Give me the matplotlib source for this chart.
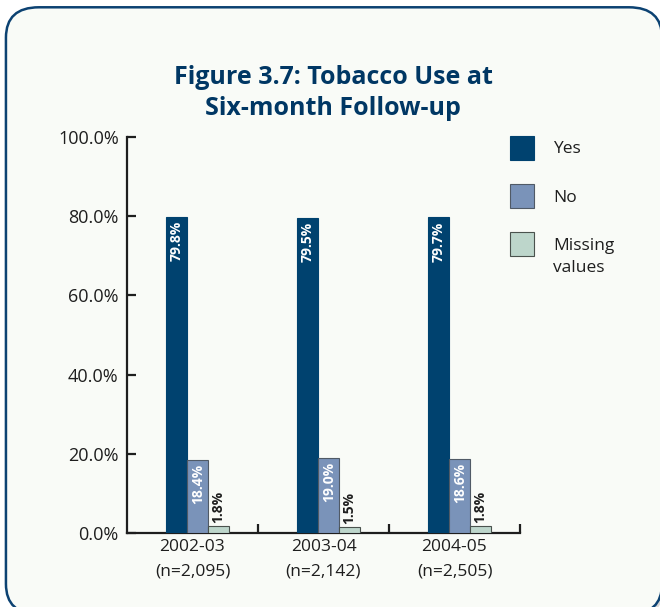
import numpy as np
import matplotlib.pyplot as plt
from matplotlib.patches import FancyBboxPatch

plt.rcParams['font.family'] = ['Open Sans', 'DejaVu Sans']

# Data
periods = ['2002-03\n(n=2,095)', '2003-04\n(n=2,142)', '2004-05\n(n=2,505)']
series = ['Yes', 'No', 'Missing']
yes_vals = [79.8, 79.5, 79.7]
no_vals = [18.4, 19.0, 18.6]
missing_vals = [1.8, 1.5, 1.8]

colors = ['#00426f', '#7a93b9', '#bdd6cb']
edges = ['#00426f', '#505a66', '#4a524d']
bg = '#f9fbf7'
ink = '#1e1e1e'

fig = plt.figure(figsize=(6.6, 6.07), dpi=100)
fig.patch.set_facecolor('white')

# soft shadow + rounded frame
shadow = FancyBboxPatch((0.009 + 0.004, -0.012 - 0.004), 0.994, 1.0,
                        boxstyle='round,pad=0,rounding_size=0.05',
                        transform=fig.transFigure, facecolor='#d8d8d8',
                        edgecolor='none', zorder=-11)
frame = FancyBboxPatch((0.009, -0.012), 0.994, 1.0,
                       boxstyle='round,pad=0,rounding_size=0.05',
                       transform=fig.transFigure, facecolor=bg,
                       edgecolor='#0c4272', linewidth=1.8, zorder=-10)
fig.patches.append(shadow)
fig.patches.append(frame)

fig.text(0.505, 1 - 93 / 607, 'Figure 3.7: Tobacco Use at\nSix-month Follow-up',
         ha='center', va='center', fontsize=18, fontweight='bold',
         color='#003764', linespacing=1.35)

ax = fig.add_axes([127 / 660, 1 - 533 / 607, 393 / 660, 396 / 607])
ax.patch.set_alpha(0)

x = np.arange(len(periods))
width = 0.16
offsets = [-0.12, 0.04, 0.20]
all_vals = [yes_vals, no_vals, missing_vals]

for k, vals in enumerate(all_vals):
    bars = ax.bar(x + offsets[k], vals, width, color=colors[k],
                  edgecolor=edges[k], linewidth=0.8, label=series[k],
                  zorder=3)
    for b, v in zip(bars, vals):
        cx = b.get_x() + b.get_width() / 2
        if k < 2:
            ax.text(cx, v - 1.0, f'{v:.1f}%', rotation=90, ha='center',
                    va='top', color='white', fontsize=10, fontweight='bold',
                    zorder=4)
        else:
            ax.text(cx, v + 0.8, f'{v:.1f}%', rotation=90, ha='center',
                    va='bottom', color=ink, fontsize=10,
                    fontweight='bold', zorder=4)

ax.set_xlim(-0.5, 2.5)
ax.set_ylim(0, 100)
ax.set_yticks(np.arange(0, 101, 20))
ax.set_yticklabels([f'{t:.1f}%' for t in np.arange(0, 101, 20)],
                   fontsize=13, color=ink)
ax.set_xticks(x)
ax.set_xticklabels(periods, fontsize=12.5, color=ink, linespacing=1.75)
ax.tick_params(axis='x', length=0, pad=4)
ax.set_xticks([0.5, 1.5, 2.5], minor=True)
ax.tick_params(axis='x', which='minor', direction='in', length=6.5,
               width=1.6, color=ink)
ax.tick_params(axis='y', direction='in', length=6.5, width=1.6,
               color=ink, pad=6)

for s in ['top', 'right']:
    ax.spines[s].set_visible(False)
for s in ['left', 'bottom']:
    ax.spines[s].set_linewidth(1.6)
    ax.spines[s].set_color(ink)

leg = ax.legend(loc='upper left', bbox_to_anchor=(0.975, 1.003),
                frameon=False, fontsize=12.5, handlelength=1.38,
                handleheight=1.75, labelspacing=1.4, handletextpad=1.1,
                borderaxespad=0, borderpad=0)
for t in leg.get_texts():
    t.set_color(ink)

# second line of the "Missing values" label, placed under "Missing"
fig.canvas.draw()
bb = leg.get_texts()[2].get_window_extent()
fig.text(bb.x0 / fig.bbox.width, (bb.y0 - 6) / fig.bbox.height, 'values',
         ha='left', va='top', fontsize=12.5, color=ink)

fig.savefig('out.png', dpi=100, facecolor='white')
